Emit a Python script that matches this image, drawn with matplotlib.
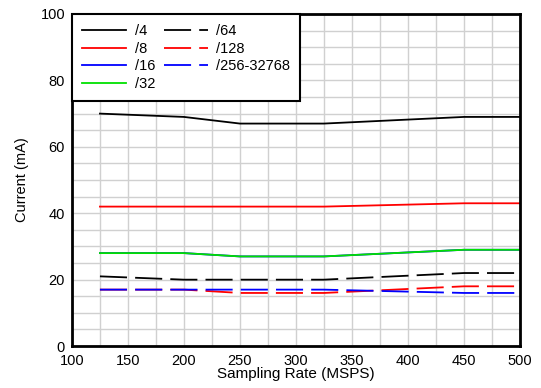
import matplotlib
matplotlib.use("Agg")
import matplotlib.pyplot as plt
from matplotlib.ticker import MultipleLocator

plt.rcParams['font.family'] = ['Liberation Sans', 'DejaVu Sans']

rates = [125, 200, 250, 325, 450, 500]
div4 = [70, 69, 67, 67, 69, 69]
div8 = [42, 42, 42, 42, 43, 43]
div16 = [28, 28, 27, 27, 29, 29]
div32 = [28, 28, 27, 27, 29, 29]
div64 = [21, 20, 20, 20, 22, 22]
div128 = [17, 17, 16, 16, 18, 18]
div256 = [17, 17, 17, 17, 16, 16]

fig = plt.figure(figsize=(5.41, 3.88), dpi=100)
ax = fig.add_axes([0.133, 0.108, 0.828, 0.856])

lw = 1.3
dash = (0, (15, 4.5))
ax.plot(rates, div4, color='black', lw=lw, label='/4')
ax.plot(rates, div8, color='#ff0000', lw=lw, label='/8')
ax.plot(rates, div16, color='#0000ff', lw=lw, label='/16')
ax.plot(rates, div32, color='#00e000', lw=lw, label='/32')
ax.plot(rates, div64, color='black', lw=lw, ls=dash, label='/64')
ax.plot(rates, div128, color='#ff0000', lw=lw, ls=dash, label='/128')
ax.plot(rates, div256, color='#0000ff', lw=lw, ls=dash, label='/256-32768')

ax.set_xlim(100, 500)
ax.set_ylim(0, 100)
ax.xaxis.set_major_locator(MultipleLocator(50))
ax.xaxis.set_minor_locator(MultipleLocator(25))
ax.yaxis.set_major_locator(MultipleLocator(20))
ax.yaxis.set_minor_locator(MultipleLocator(5))
ax.grid(True, which='both', color='#d0d0d0', lw=1)
ax.set_axisbelow(True)
ax.tick_params(which='both', length=0, labelsize=10.5)
ax.tick_params(axis='x', pad=6)
ax.tick_params(axis='y', pad=5)
for s in ax.spines.values():
    s.set_linewidth(2)
    s.set_color('black')

ax.set_xlabel('Sampling Rate (MSPS)', fontsize=11, labelpad=-1)
ax.set_ylabel('Current (mA)', fontsize=10.5, labelpad=8)

leg = ax.legend(loc='upper left', ncol=2, fontsize=10.5, frameon=True,
                fancybox=False, borderaxespad=0, handlelength=3.0,
                labelspacing=0.25, columnspacing=0.6, handletextpad=0.6,
                borderpad=0.7)
leg.get_frame().set_edgecolor('black')
leg.get_frame().set_linewidth(1.5)
leg.get_frame().set_alpha(1)

fig.savefig('out.png', dpi=100)
